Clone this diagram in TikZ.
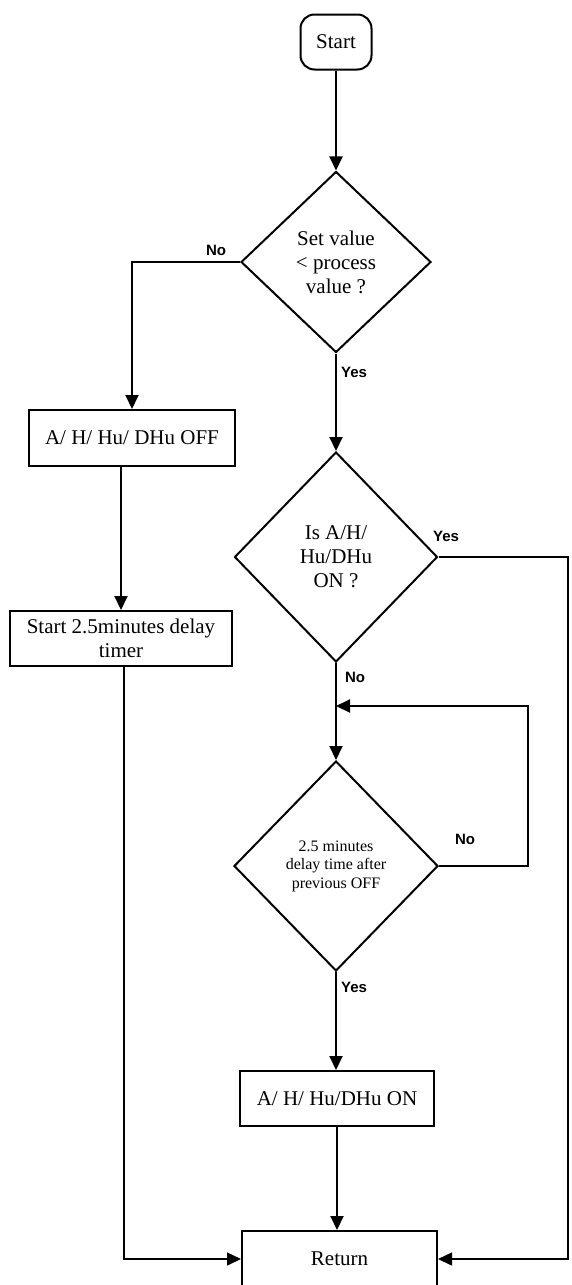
\documentclass[tikz,border=0pt]{standalone}
\usepackage{fontspec}
\setmainfont{Liberation Serif}
\newfontfamily\labelfont{Liberation Sans}
\usepackage{tikz}
\usetikzlibrary{arrows.meta}
\usetikzlibrary{shapes.geometric}

\tikzset{
  box/.style={draw, rectangle, line width=2pt, inner sep=0pt, align=center, font=\fontsize{21}{24}\selectfont},
  decision/.style={draw, diamond, line width=2pt, inner sep=0pt, align=center, font=\fontsize{21}{24}\selectfont},
  lbl/.style={font=\labelfont\bfseries\fontsize{15}{17}\selectfont},
  flow/.style={line width=2pt, -{Triangle[length=14pt,width=13pt]}},
  side/.style={line width=1.5pt, -{Triangle[length=14pt,width=13pt]}},
}

\begin{document}
\begin{tikzpicture}[x=1pt, y=-1pt]
              \useasboundingbox (0,0) rectangle (571,1285);
              \draw (336,42) node[box, rounded corners=14pt, minimum width=71pt, minimum height=55pt]      (start) {Start};
              \draw (336,262) node[decision, minimum width=190pt, minimum height=181pt]                     (ask) {Set value\\< process\\value ?};
              \draw (132,438) node[box, minimum width=206pt, minimum height=56pt]                           (off) {A/ H/ Hu/ DHu OFF};
              \draw (121,638.5) node[box, minimum width=222pt, minimum height=55pt]                         (timer) {Start 2.5minutes delay\\timer};
              \draw (336,557) node[decision, minimum width=203pt, minimum height=210pt]                     (ison) {Is A/H/\\Hu/DHu\\ON ?};
              \draw (336,866) node[decision, minimum width=204pt, minimum height=210pt, font=\fontsize{16}{18.5}\selectfont] (wait) {2.5 minutes\\delay time after\\previous OFF};
              \draw (337,1098.5) node[box, minimum width=194pt, minimum height=55pt]                        (on) {A/ H/ Hu/DHu ON};
              \draw (339.5,1259) node[box, minimum width=195pt, minimum height=56pt]                        (ret) {Return};
              \coordinate (join) at (336,706);

              \draw[flow] (start) -- (ask);
              \draw[flow] (ask.west) -| (off.north);
              \draw[flow] (timer.north |- off.south) -- (timer.north);
              \draw[side] (timer.south -| 124,0) |- (ret.west);
              \draw[flow] (ask.south) -- (ison.north);
              \draw[side] (ison.east) -- (568,557) |- (ret.east);
              \draw[line width=2pt] (ison.south) -- (join);
              \draw[flow] (join) -- (wait.north);
              \draw[flow] (wait.east) -- (528,866) |- (join);
              \draw[flow] (wait.south) -- (on.north -| wait.south);
              \draw[flow] (on.south) -- (ret.north -| on.south);

              \node[lbl] (no1) at (216,250) {No};
              \node[lbl] (yes1) at (354,372) {Yes};
              \node[lbl] (yes2) at (446,536) {Yes};
              \node[lbl] (no2) at (355,677) {No};
              \node[lbl] (no3) at (465,839) {No};
              \node[lbl] (yes3) at (354,987) {Yes};
              \end{tikzpicture}
\end{document}
